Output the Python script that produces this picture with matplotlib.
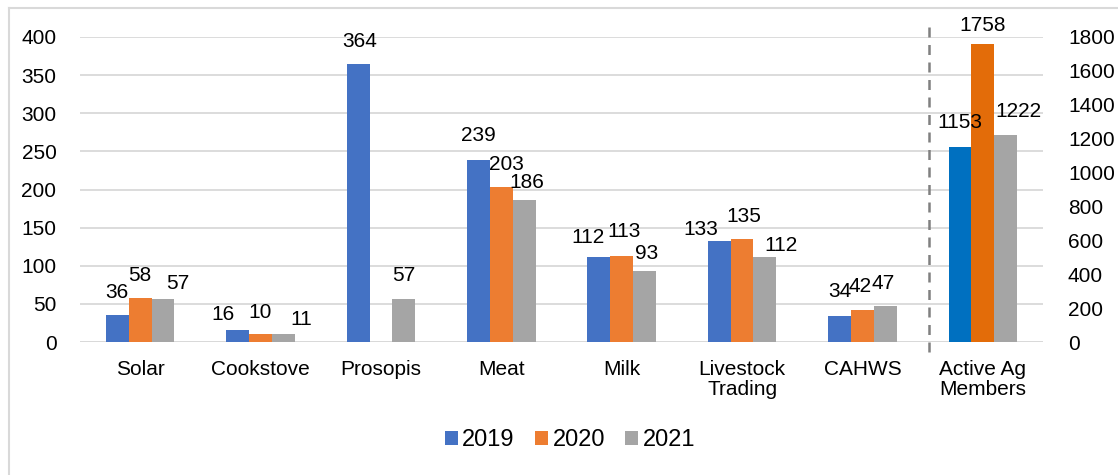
import numpy as np
import matplotlib
matplotlib.use("Agg")
import matplotlib.pyplot as plt
from matplotlib.lines import Line2D
from matplotlib.patches import Patch

# ---- data ----
categories = ["Solar", "Cookstove", "Prosopis", "Meat", "Milk", "Livestock\nTrading", "CAHWS"]
right_category = "Active Ag\nMembers"
years = ["2019", "2020", "2021"]
v2019 = [36, 16, 364, 239, 112, 133, 34]
v2020 = [58, 10, np.nan, 203, 113, 135, 42]
v2021 = [57, 11, 57, 186, 93, 112, 47]
members = [1153, 1758, 1222]
left_ticks = [0, 50, 100, 150, 200, 250, 300, 350, 400]
right_ticks = [0, 200, 400, 600, 800, 1000, 1200, 1400, 1600, 1800]

# ---- styles ----
colors = ["#4472C4", "#ED7D31", "#A5A5A5"]
member_colors = ["#0070C0", "#E36C09", "#A5A5A5"]
grid_color = "#D9D9D9"
FS = 15
LFS = 17
plt.rcParams["font.family"] = ["Liberation Sans", "DejaVu Sans"]

# label offsets in pixels (dx, dy) relative to bar top centre
off2019 = [(0, 22), (-15, 15), (2, 23), (0, 24), (-11, 19), (-18, 11), (0, 25)]
off2020 = [(0, 22), (0, 22), (0, 22), (5, 23), (2, 24), (2, 23), (-2, 23)]
off2021 = [(15, 15), (18, 14), (0, 23), (3, 18), (2, 18), (16, 11), (-2, 23)]
off_members = [(0, 24), (0, 19), (13, 23)]

W, H = 1118, 475
fig = plt.figure(figsize=(W / 100, H / 100), dpi=100)
ax = fig.add_axes([80 / W, 1 - 342 / H, (1043 - 80) / W, (342 - 37) / H])
ax2 = ax.twinx()

bw = 0.19
x = np.arange(len(categories))
series = [v2019, v2020, v2021]
offsets = [off2019, off2020, off2021]
for i, (vals, col, offs) in enumerate(zip(series, colors, offsets)):
    xs = x + (i - 1) * bw
    ax.bar(xs, vals, width=bw, color=col, zorder=3)
    for xi, v, (dx, dy) in zip(xs, vals, offs):
        if np.isnan(v):
            continue
        ax.annotate(f"{v:g}", (xi, v), xytext=(dx, dy), textcoords="offset pixels",
                    ha="center", va="center", fontsize=FS, color="black", zorder=5)

xm = len(categories)
for i, (v, col, (dx, dy)) in enumerate(zip(members, member_colors, off_members)):
    xi = xm + (i - 1) * bw
    ax2.bar(xi, v, width=bw, color=col, zorder=3)
    ax2.annotate(f"{v:g}", (xi, v), xytext=(dx, dy), textcoords="offset pixels",
                 ha="center", va="center", fontsize=FS, color="black", zorder=5)

ax.set_xlim(-0.5, len(categories) + 0.5)
ax.set_ylim(0, 400)
ax2.set_ylim(0, 1800)
ax.set_yticks(left_ticks)
ax2.set_yticks(right_ticks)
ax.set_xticks(list(x) + [xm])
ax.set_xticklabels(categories + [right_category], fontsize=FS, linespacing=1.05)
ax.tick_params(axis="x", length=0, pad=13)
ax.tick_params(axis="y", length=0, pad=17, labelsize=FS)
ax2.tick_params(axis="y", length=0, pad=18, labelsize=FS)
for a in (ax, ax2):
    for s in a.spines.values():
        s.set_visible(False)
ax.set_axisbelow(True)
ax.yaxis.grid(True, color=grid_color, linewidth=1.3, zorder=0)
ax.axhline(0, color=grid_color, linewidth=1.3, zorder=1)

# dashed separator
sep = Line2D([6.55, 6.55], [1.033, -0.043], transform=ax.get_xaxis_transform(),
             color="#808080", linestyle=(0, (4, 3)), linewidth=1.8, clip_on=False)
ax.add_line(sep)

# legend
handles = [Patch(facecolor=c, edgecolor="none") for c in colors]
fig.legend(handles, years, loc="center", bbox_to_anchor=(570 / W, 1 - 440 / H),
           ncol=3, frameon=False, fontsize=LFS, handlelength=0.55, handleheight=0.55,
           handletextpad=0.2, columnspacing=0.85)

# chart border
fig.add_artist(Line2D([8.5 / W, 8.5 / W], [0, 1 - 7.5 / H], color=grid_color, linewidth=1.5))
fig.add_artist(Line2D([8.5 / W, 1], [1 - 7.5 / H, 1 - 7.5 / H], color=grid_color, linewidth=1.5))

fig.savefig("out.png", dpi=100)
